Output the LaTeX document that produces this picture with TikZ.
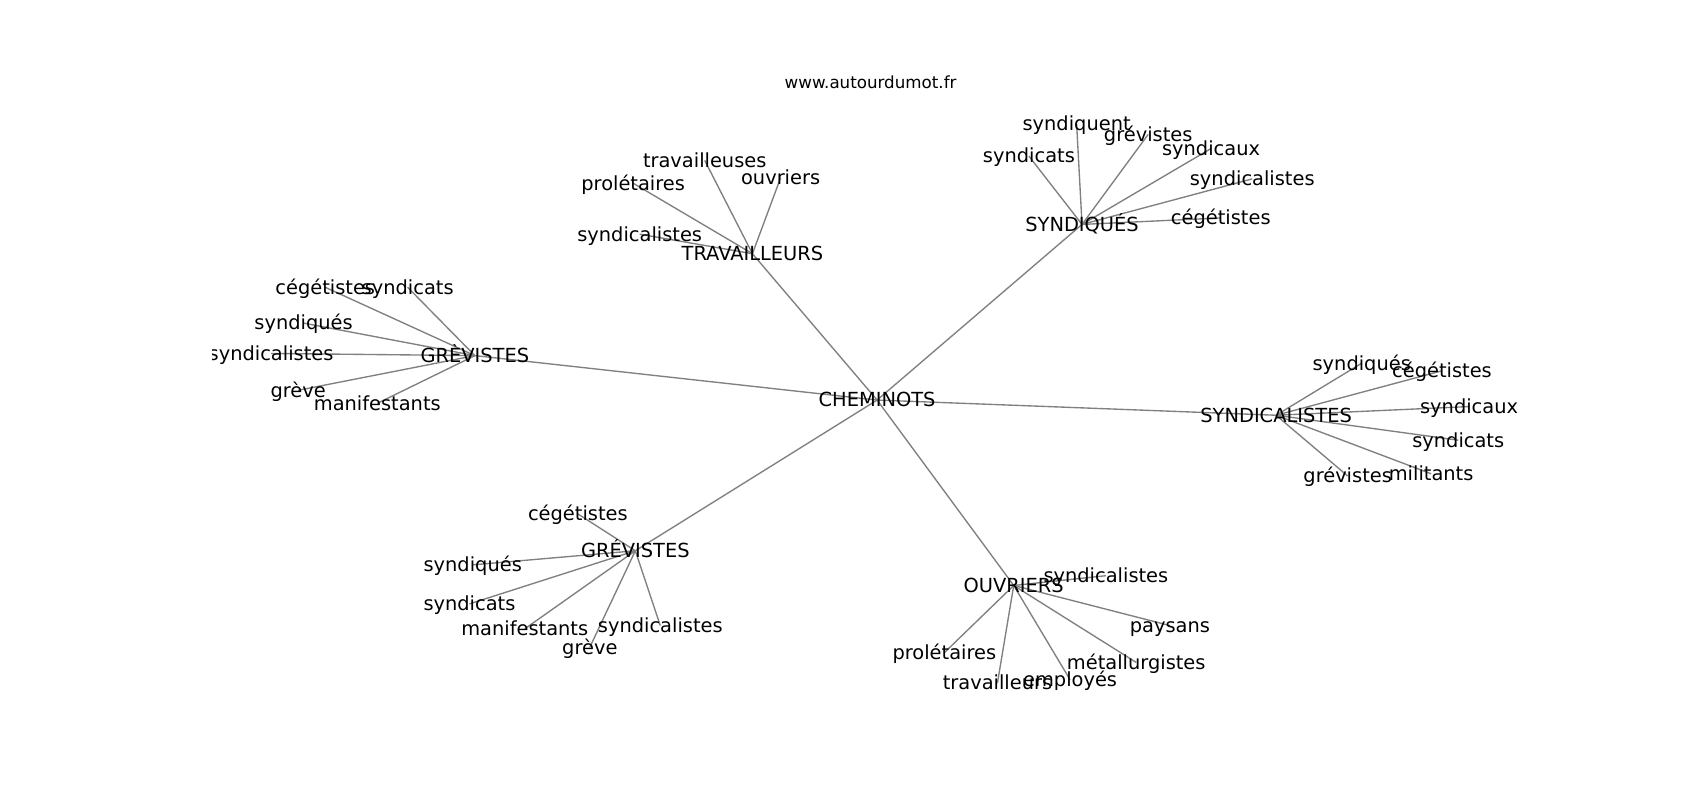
\documentclass[tikz,border=0pt]{standalone}
\usepackage{fontspec}
\setmainfont{DejaVu Sans}
\usetikzlibrary{backgrounds}
\tikzset{
  lab/.style={inner sep=0pt, anchor=center, font=\fontsize{17.9}{20}\selectfont, text height=12.6pt, text depth=0pt},
  ttl/.style={inner sep=0pt, anchor=center, font=\fontsize{15.4}{18}\selectfont},
  edge/.style={draw=black!50, line width=1.25pt}
}
\begin{document}
\begin{tikzpicture}[x=1pt,y=-1pt]
\useasboundingbox (0,0) rectangle (1568,738);
\node[ttl] (title) at (803,76) {www.autourdumot.fr};
\begin{scope}
\clip (196,0) rectangle (1568,738);
% centre
\node[lab] (c) at (809,369) {CHEMINOTS};
% TRAVAILLEURS
\node[lab] (t) at (694,234) {TRAVAILLEURS};
\node[lab] (t1) at (650,148) {travailleuses};
\node[lab] (t2) at (584,169) {prolétaires};
\node[lab] (t3) at (720,164) {ouvriers};
\node[lab] (t4) at (590,216) {syndicalistes};
% SYNDIQUES
\node[lab] (s) at (998,207) {SYNDIQUÉS};
\node[lab] (s1) at (993,114) {syndiquent};
\node[lab] (s2) at (1059,124) {grévistes};
\node[lab] (s3) at (949,144) {syndicats};
\node[lab] (s4) at (1117,137) {syndicaux};
\node[lab] (s5) at (1155,165) {syndicalistes};
\node[lab] (s6) at (1126,201) {cégétistes};
% GREVISTES left
\node[lab] (g) at (438,328) {GRÈVISTES};
\node[lab] (g1) at (300,265) {cégétistes};
\node[lab] (g2) at (376,265) {syndicats};
\node[lab] (g3) at (280,298) {syndiqués};
\node[lab] (g4) at (250,326) {syndicalistes};
\node[lab] (g5) at (275,360) {grève};
\node[lab] (g6) at (348,372) {manifestants};
% SYNDICALISTES
\node[lab] (l) at (1177,383) {SYNDICALISTES};
\node[lab] (l1) at (1256,335) {syndiqués};
\node[lab] (l2) at (1330,342) {cégétistes};
\node[lab] (l3) at (1355,375) {syndicaux};
\node[lab] (l4) at (1345,406) {syndicats};
\node[lab] (l5) at (1243,439) {grévistes};
\node[lab] (l6) at (1320,437) {militants};
% GREVISTES bottom
\node[lab] (b) at (586,508) {GRÉVISTES};
\node[lab] (b1) at (533,474) {cégétistes};
\node[lab] (b2) at (436,521) {syndiqués};
\node[lab] (b3) at (433,557) {syndicats};
\node[lab] (b4) at (484,580) {manifestants};
\node[lab] (b5) at (609,577) {syndicalistes};
\node[lab] (b6) at (544,597) {grève};
% OUVRIERS
\node[lab] (o) at (935,540) {OUVRIERS};
\node[lab] (o1) at (1020,531) {syndicalistes};
\node[lab] (o2) at (1079,577) {paysans};
\node[lab] (o3) at (871,602) {prolétaires};
\node[lab] (o4) at (1048,611) {métallurgistes};
\node[lab] (o5) at (920,630) {travailleurs};
\node[lab] (o6) at (987,627) {employés};
\end{scope}
\begin{scope}[on background layer]
\fill[white] (0,0) rectangle (1568,738);
\foreach \h in {t,s,g,l,b,o} \draw[edge] (c.center) -- (\h.center);
\foreach \n in {1,...,4} \draw[edge] (t.center) -- (t\n.center);
\foreach \n in {1,...,6} {
  \draw[edge] (s.center) -- (s\n.center);
  \draw[edge] (g.center) -- (g\n.center);
  \draw[edge] (l.center) -- (l\n.center);
  \draw[edge] (b.center) -- (b\n.center);
  \draw[edge] (o.center) -- (o\n.center);
}
\end{scope}
\end{tikzpicture}
\end{document}
